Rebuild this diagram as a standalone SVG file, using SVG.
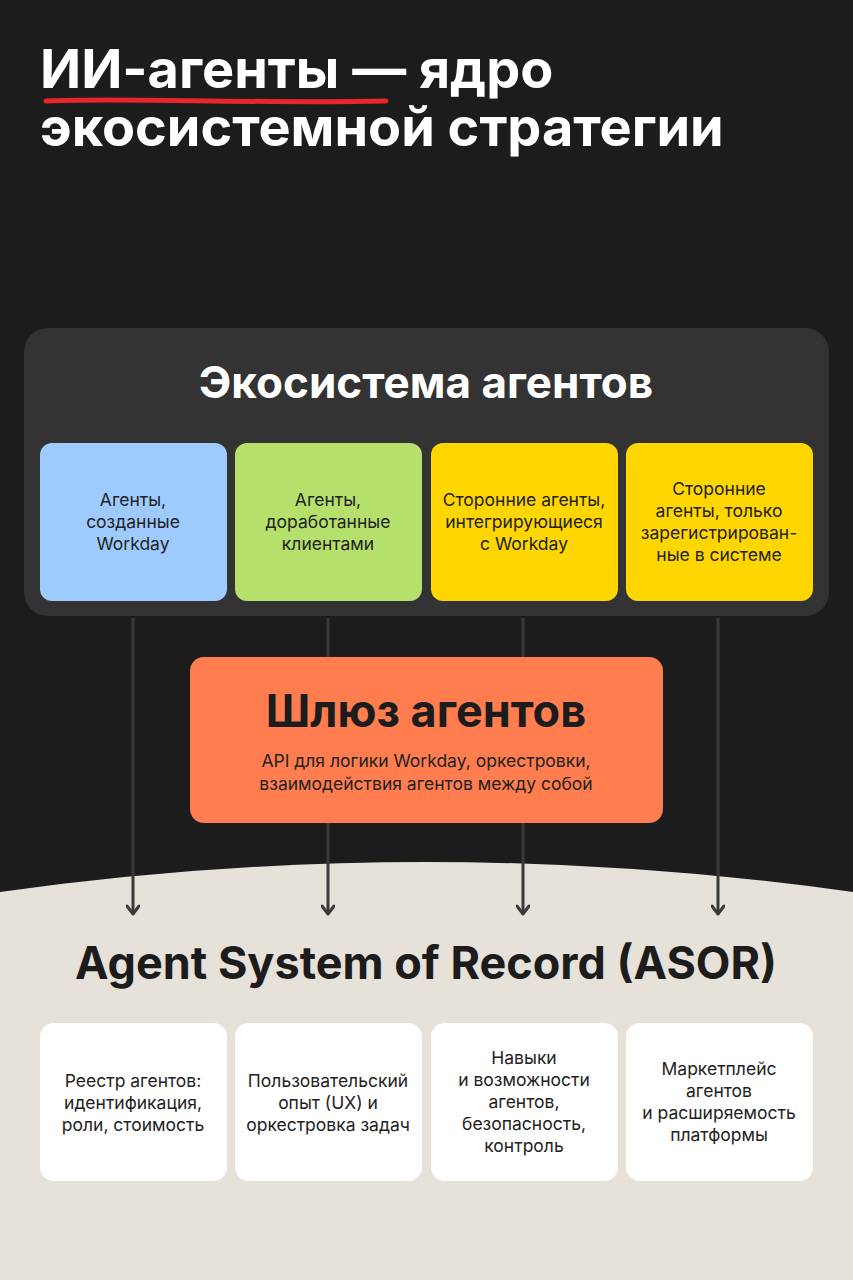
<svg xmlns="http://www.w3.org/2000/svg" width="853" height="1280" viewBox="0 0 853 1280">
<defs>
<style>
.t{font-family:"Inter","Noto Sans",sans-serif}
.h{font-weight:700}
.c{font-size:17.5px;fill:#222;text-anchor:middle}
.w{fill:#fff;text-anchor:middle}
</style>
<marker id="ar" markerWidth="14" markerHeight="14" refX="11" refY="7" orient="auto" markerUnits="userSpaceOnUse" viewBox="0 0 14 14"><path d="M3 1 L11 7 L3 13" fill="none" stroke="#3a3a3a" stroke-width="3" stroke-linecap="round" stroke-linejoin="round"/></marker>
</defs>
<rect width="853" height="1280" fill="#1c1c1c"/>
<g id="title">
<path d="M46 101 C120 97 250 104 386 101" fill="none" stroke="#e8262b" stroke-width="5" stroke-linecap="round"/>
<text class="t h" x="40" y="88" font-size="54" fill="#fff">ИИ-агенты — ядро</text>
<text class="t h" x="40" y="146" font-size="54" fill="#fff">экосистемной стратегии</text>
</g>
<path d="M0 892 Q426 832 853 892 L853 1280 L0 1280 Z" fill="#e6e2d9"/>
<g id="ecosystem">
<rect x="24" y="328" width="805" height="288" rx="24" fill="#333"/>
<text class="t h w" x="426" y="398" font-size="44">Экосистема агентов</text>
</g>
<g id="c1"><rect x="40" y="443" width="187" height="158" rx="12" fill="#9ecbff"/>
<text class="t c" x="133" y="506"><tspan x="133">Агенты,</tspan><tspan x="133" dy="22">созданные</tspan><tspan x="133" dy="22">Workday</tspan></text></g>
<g id="c2"><rect x="235" y="443" width="187" height="158" rx="12" fill="#b5e06c"/>
<text class="t c" x="328" y="506"><tspan x="328">Агенты,</tspan><tspan x="328" dy="22">доработанные</tspan><tspan x="328" dy="22">клиентами</tspan></text></g>
<g id="c3"><rect x="431" y="443" width="187" height="158" rx="12" fill="#ffd600"/>
<text class="t c" x="524" y="506"><tspan x="524">Сторонние агенты,</tspan><tspan x="524" dy="22">интегрирующиеся</tspan><tspan x="524" dy="22">с Workday</tspan></text></g>
<g id="c4"><rect x="626" y="443" width="187" height="158" rx="12" fill="#ffd600"/>
<text class="t c" x="719" y="495"><tspan x="719">Сторонние</tspan><tspan x="719" dy="22">агенты, только</tspan><tspan x="719" dy="22">зарегистрирован-</tspan><tspan x="719" dy="22">ные в системе</tspan></text></g>
<g id="connectors" stroke="#3a3a3a" stroke-width="3" fill="none">
<line x1="133" y1="618" x2="133" y2="914" marker-end="url(#ar)"/>
<line x1="328" y1="618" x2="328" y2="914" marker-end="url(#ar)"/>
<line x1="523" y1="618" x2="523" y2="914" marker-end="url(#ar)"/>
<line x1="718" y1="618" x2="718" y2="914" marker-end="url(#ar)"/>
</g>
<g id="gateway"><rect x="190" y="657" width="473" height="166" rx="14" fill="#ff7d4f"/>
<text class="t h" x="426" y="727" font-size="45" fill="#1c1c1c" text-anchor="middle">Шлюз агентов</text>
<text class="t c" x="426" y="767" font-size="18.5"><tspan x="426">API для логики Workday, оркестровки,</tspan><tspan x="426" dy="23">взаимодействия агентов между собой</tspan></text></g>
<g id="asor"><text class="t h" x="426" y="979" font-size="45" fill="#1c1c1c" text-anchor="middle">Agent System of Record (ASOR)</text></g>
<g id="b1"><rect x="40" y="1023" width="187" height="158" rx="14" fill="#fff"/>
<text class="t c" x="133" y="1087"><tspan x="133">Реестр агентов:</tspan><tspan x="133" dy="22">идентификация,</tspan><tspan x="133" dy="22">роли, стоимость</tspan></text></g>
<g id="b2"><rect x="235" y="1023" width="187" height="158" rx="14" fill="#fff"/>
<text class="t c" x="328" y="1087"><tspan x="328">Пользовательский</tspan><tspan x="328" dy="22">опыт (UX) и</tspan><tspan x="328" dy="22">оркестровка задач</tspan></text></g>
<g id="b3"><rect x="431" y="1023" width="187" height="158" rx="14" fill="#fff"/>
<text class="t c" x="524" y="1064"><tspan x="524">Навыки</tspan><tspan x="524" dy="22">и возможности</tspan><tspan x="524" dy="22">агентов,</tspan><tspan x="524" dy="22">безопасность,</tspan><tspan x="524" dy="22">контроль</tspan></text></g>
<g id="b4"><rect x="626" y="1023" width="187" height="158" rx="14" fill="#fff"/>
<text class="t c" x="719" y="1075"><tspan x="719">Маркетплейс</tspan><tspan x="719" dy="22">агентов</tspan><tspan x="719" dy="22">и расширяемость</tspan><tspan x="719" dy="22">платформы</tspan></text></g>
</svg>
